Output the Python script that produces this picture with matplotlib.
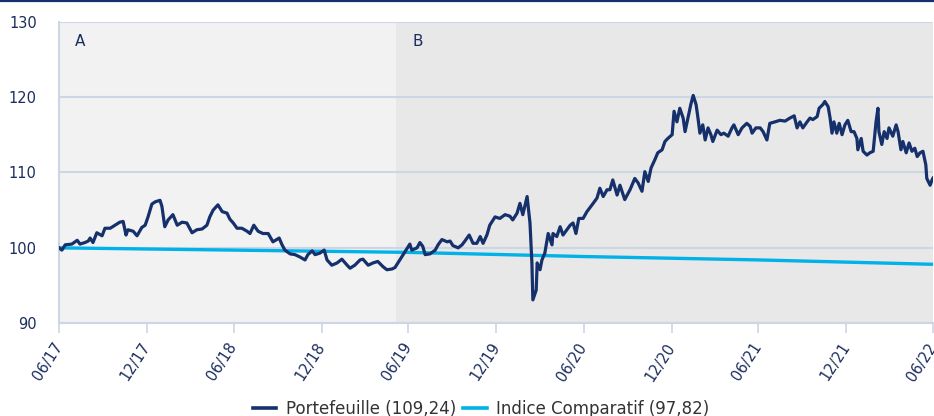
import matplotlib
matplotlib.use("Agg")
import matplotlib.pyplot as plt
import matplotlib.transforms as mtransforms
from matplotlib.lines import Line2D
import pandas as pd

# ---------------- data ----------------
start_date = "2017-06-30"
end_date = "2022-06-30"
period_b_start = "2019-06-05"

# days elapsed since start_date for each observation of the portfolio
port_days = [0, 6, 13, 27, 38, 44, 54, 61, 65, 71, 79, 90, 96, 107, 117, 127, 134, 140, 144, 155,
             163, 173, 180, 186, 194, 201, 211, 215, 221, 228, 238, 247, 257, 267, 278, 288, 299, 309, 315, 322,
             332, 341, 351, 357, 364, 372, 382, 393, 399, 407, 416, 426, 437, 447, 460, 466, 472, 483, 493, 503,
             514, 520, 529, 535, 545, 554, 560, 570, 581, 591, 602, 608, 618, 629, 635, 646, 656, 666, 677, 685,
             696, 702, 708, 717, 723, 733, 737, 748, 754, 760, 765, 775, 786, 792, 800, 811, 817, 823, 834, 842,
             848, 857, 865, 873, 880, 886, 894, 900, 911, 921, 932, 942, 948, 957, 963, 969, 978, 984, 988, 990,
             997, 999, 1005, 1009, 1015, 1022, 1030, 1032, 1040, 1047, 1053, 1061, 1068, 1074, 1080, 1086, 1095, 1103, 1109, 1116,
             1124, 1130, 1137, 1145, 1151, 1157, 1166, 1172, 1182, 1193, 1203, 1210, 1218, 1224, 1231, 1237, 1245, 1251, 1260, 1266,
             1272, 1281, 1285, 1291, 1297, 1304, 1308, 1314, 1320, 1325, 1331, 1335, 1339, 1345, 1350, 1356, 1362, 1366, 1375, 1383,
             1389, 1398, 1406, 1410, 1419, 1427, 1437, 1444, 1448, 1456, 1465, 1471, 1479, 1485, 1496, 1506, 1517, 1527, 1536, 1542,
             1548, 1554, 1563, 1569, 1575, 1584, 1588, 1596, 1600, 1607, 1611, 1615, 1619, 1625, 1630, 1636, 1642, 1648, 1655, 1661,
             1667, 1669, 1676, 1680, 1688, 1694, 1701, 1707, 1711, 1713, 1719, 1724, 1730, 1734, 1742, 1749, 1753, 1759, 1763, 1770,
             1776, 1782, 1788, 1793, 1799, 1805, 1811, 1813, 1820, 1824, 1826]

portfolio = [100.0, 99.7, 100.4, 100.5, 101.0, 100.5, 100.7, 100.9, 101.3, 100.7, 102.0, 101.6, 102.6, 102.6, 103.0, 103.4, 103.5, 101.7, 102.4, 102.2,
             101.6, 102.7, 103.0, 104.1, 105.8, 106.1, 106.3, 105.5, 102.8, 103.7, 104.4, 103.0, 103.4, 103.3, 102.0, 102.4, 102.5, 103.0, 104.1, 105.0,
             105.7, 104.8, 104.6, 103.8, 103.3, 102.6, 102.6, 102.2, 101.9, 103.0, 102.2, 101.9, 101.9, 100.8, 101.3, 100.4, 99.7, 99.2, 99.1, 98.8,
             98.4, 99.1, 99.6, 99.1, 99.3, 99.7, 98.4, 97.7, 98.0, 98.5, 97.7, 97.3, 97.7, 98.4, 98.5, 97.7, 98.0, 98.2, 97.5, 97.1,
             97.2, 97.4, 98.0, 98.9, 99.5, 100.5, 99.7, 100.0, 100.7, 100.2, 99.1, 99.2, 99.7, 100.4, 101.1, 100.8, 100.9, 100.3, 100.0, 100.4,
             100.9, 101.7, 100.6, 100.6, 101.5, 100.6, 101.7, 103.0, 104.1, 103.9, 104.4, 104.2, 103.7, 104.6, 105.9, 104.4, 106.8, 103.3, 98.0, 93.1,
             94.4, 98.0, 97.1, 98.4, 99.3, 101.9, 100.4, 101.9, 101.5, 102.8, 101.7, 102.4, 103.0, 103.3, 101.9, 103.9, 103.9, 104.8, 105.3, 105.9,
             106.6, 107.9, 106.8, 107.7, 107.7, 109.0, 107.0, 108.3, 106.4, 107.7, 109.2, 108.6, 107.5, 110.1, 108.8, 110.6, 111.7, 112.6, 113.0, 114.1,
             114.5, 115.0, 118.1, 116.7, 118.5, 117.2, 115.4, 117.2, 119.0, 120.2, 119.0, 117.2, 115.2, 116.3, 114.3, 115.9, 115.0, 114.1, 115.6, 115.0,
             115.2, 114.8, 115.9, 116.3, 115.0, 115.9, 116.5, 116.1, 115.2, 115.9, 115.9, 115.4, 114.3, 116.5, 116.7, 116.9, 116.8, 117.2, 117.5, 115.9,
             116.7, 115.9, 116.7, 117.2, 117.0, 117.4, 118.5, 119.0, 119.4, 118.7, 117.2, 115.2, 116.7, 115.2, 116.5, 115.0, 116.3, 116.9, 115.4, 115.4,
             114.5, 113.0, 114.5, 112.8, 112.3, 112.6, 112.8, 116.7, 118.5, 115.4, 113.7, 115.4, 114.5, 115.9, 114.8, 116.3, 115.4, 113.0, 114.1, 112.6,
             113.9, 112.8, 113.2, 112.1, 112.6, 112.8, 111.0, 109.2, 108.3, 109.0, 109.24]

bench_dates = ["2017-06-30", "2018-06-30", "2019-06-30", "2020-06-30", "2021-06-30", "2022-06-30"]
benchmark = [100.0, 99.7, 99.4, 98.85, 98.4, 97.82]

tick_dates = ["2017-06-30", "2017-12-31", "2018-06-30", "2018-12-31", "2019-06-30", "2019-12-31",
              "2020-06-30", "2020-12-31", "2021-06-30", "2021-12-31", "2022-06-30"]
tick_labels = ["06/17", "12/17", "06/18", "12/18", "06/19", "12/19", "06/20", "12/20", "06/21", "12/21", "06/22"]
y_ticks = [90, 100, 110, 120, 130]

series_names = ["Portefeuille (109,24)", "Indice Comparatif (97,82)"]
period_labels = ["A", "B"]

# ---------------- style ----------------
NAVY = "#15306b"
CYAN = "#00b2e8"
GRID = "#ccd6e4"
TXT = "#1b2d5e"

plt.rcParams["font.family"] = ["DejaVu Sans"]

fig = plt.figure(figsize=(9.34, 4.16), dpi=100)
ax = fig.add_axes([59 / 934, 1 - 323.3 / 416, 874 / 934, (323.3 - 21.5) / 416])

t0 = pd.Timestamp(start_date)
t1 = pd.Timestamp(end_date)
tb = pd.Timestamp(period_b_start)
port_x = t0 + pd.to_timedelta(port_days, unit="D")

ax.axvspan(t0, tb, color="#f2f2f2", zorder=0, lw=0)
ax.axvspan(tb, t1, color="#e8e8e8", zorder=0, lw=0)

for yv in y_ticks:
    ax.axhline(yv, color=GRID, lw=1.5, zorder=1)

ax.plot(pd.to_datetime(bench_dates), benchmark, color=CYAN, lw=2.4, zorder=3,
        solid_capstyle="butt")
ax.plot(port_x, portfolio, color=NAVY, lw=2.3, zorder=4, solid_joinstyle="round")

ax.set_xlim(t0, t1)
ax.set_ylim(90, 130)
ax.set_yticks(y_ticks)
ax.set_xticks(pd.to_datetime(tick_dates))
ax.set_xticklabels(tick_labels)

for s in ["top", "right"]:
    ax.spines[s].set_visible(False)
ax.spines["left"].set_color(GRID)
ax.spines["left"].set_linewidth(1.5)
ax.spines["bottom"].set_color(GRID)
ax.spines["bottom"].set_linewidth(1.5)

ax.tick_params(axis="y", length=0, pad=16, labelsize=10.5, labelcolor=TXT)
ax.tick_params(axis="x", length=7, width=1.2, color=GRID, pad=8, labelsize=10.5, labelcolor=TXT)
for lab in ax.get_xticklabels():
    lab.set_rotation(57)
    lab.set_rotation_mode("anchor")
    lab.set_ha("right")
    lab.set_va("center")

trans = mtransforms.blended_transform_factory(ax.transData, ax.transAxes)
ax.text(0.018, 0.935, period_labels[0], transform=ax.transAxes, color=TXT, fontsize=11, va="center", ha="left")
ax.text(tb + pd.Timedelta(days=33), 0.935, period_labels[1], transform=trans, color=TXT, fontsize=11,
        va="center", ha="left")

# top rule
fig.add_artist(Line2D([0, 1], [1 - 0.8 / 416, 1 - 0.8 / 416], transform=fig.transFigure, color=NAVY, lw=1.6))

handles = [Line2D([], [], color=NAVY, lw=2.6), Line2D([], [], color=CYAN, lw=2.6)]
leg = fig.legend(handles, series_names, loc="lower center", bbox_to_anchor=(0.515, -0.04), ncol=2,
                 frameon=False, fontsize=12, handlelength=1.4, handletextpad=0.55, columnspacing=0.45)
for t in leg.get_texts():
    t.set_color("#333333")

fig.savefig("out.png", dpi=100)
